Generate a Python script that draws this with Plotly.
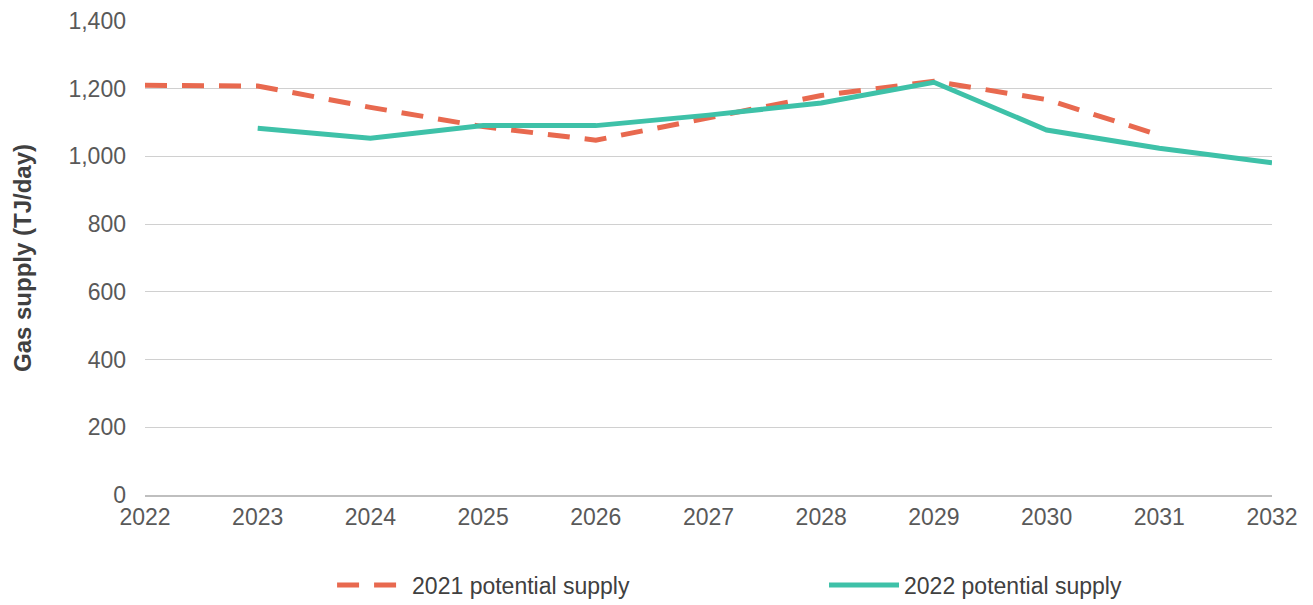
import plotly.graph_objects as go

years = [2022, 2023, 2024, 2025, 2026, 2027, 2028, 2029, 2030, 2031, 2032]
supply_2021 = [1210, 1208, 1145, 1088, 1048, 1115, 1180, 1222, 1168, 1063, None]
supply_2022 = [None, 1083, 1054, 1091, 1091, 1122, 1158, 1219, 1078, 1024, 981]

y_ticks = [0, 200, 400, 600, 800, 1000, 1200, 1400]

fig = go.Figure()
fig.add_trace(go.Scatter(
    x=years, y=supply_2021, mode="lines", name="2021 potential supply",
    line=dict(color="#E8694F", width=5, dash="22px,15px"),
    connectgaps=False, legend="legend",
))
fig.add_trace(go.Scatter(
    x=years, y=supply_2022, mode="lines", name="2022 potential supply",
    line=dict(color="#3EC1A8", width=5),
    connectgaps=False, legend="legend2",
))

leg_common = dict(
    orientation="h", yref="container", yanchor="middle", y=0.0335, xanchor="left",
    itemwidth=70, font=dict(size=23, color="#404040"),
    bgcolor="rgba(0,0,0,0)",
)

fig.update_layout(
    width=1305, height=597,
    margin=dict(l=137, r=41, t=13, b=110),
    paper_bgcolor="white", plot_bgcolor="white",
    font=dict(family="Liberation Sans, Arial, sans-serif", size=23, color="#595959"),
    showlegend=True,
    legend=dict(x=0.166, **leg_common),
    legend2=dict(x=0.6025, **leg_common),
    xaxis=dict(
        range=[2022, 2032], tickmode="array", tickvals=years,
        ticktext=[str(y) for y in years],
        showgrid=False, showline=True, linecolor="#BFBFBF", linewidth=2,
        ticks="", zeroline=False, automargin=False,
        tickfont=dict(size=23, color="#595959"),
    ),
    yaxis=dict(
        range=[0, 1400], tickvals=y_ticks,
        ticktext=[f"{v:,}" for v in y_ticks],
        showgrid=True, gridcolor="#D0D0D0", gridwidth=1,
        showline=False, zeroline=False, ticks="", automargin=False,
        ticklabelstandoff=18,
        tickfont=dict(size=23, color="#595959"),
        title=dict(text="<b>Gas supply (TJ/day)</b>", font=dict(size=24, color="#404040"), standoff=30),
    ),
)

fig.write_html("out.html")
